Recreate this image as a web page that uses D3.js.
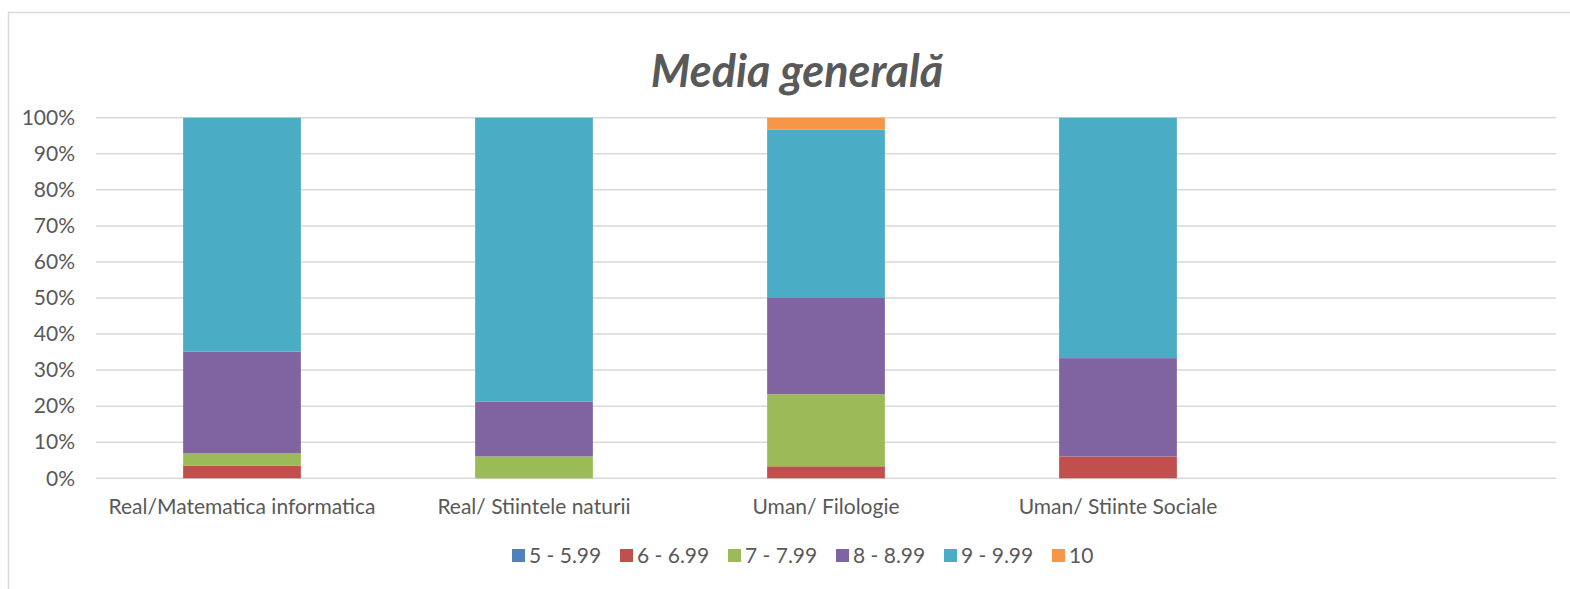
<!DOCTYPE html>
<html>
<head>
<meta charset="utf-8">
<script src="https://cdn.jsdelivr.net/npm/d3@7"></script>
<style>
  body { margin: 0; background: #fff; }
  text { font-family: Lato, "Noto Sans", sans-serif; fill: #595959; }
</style>
</head>
<body>
<div id="chart"></div>
<script>
// categories (last slot is empty in the original)
const categories = ["Real/Matematica informatica", "Real/ Stiintele naturii", "Uman/ Filologie", "Uman/ Stiinte Sociale", ""]
const seriesNames = ["5 - 5.99", "6 - 6.99", "7 - 7.99", "8 - 8.99", "9 - 9.99", "10"]
const seriesColors = ["#4f81bd", "#c0504d", "#9bbb59", "#8064a2", "#4bacc6", "#f79646"]

// share of each grade band, per category (percent)
const s5 = [0, 0, 0, 0, 0]
const s6 = [3.45, 0, 3.33, 6.06, 0]
const s7 = [3.45, 6.06, 20.0, 0, 0]
const s8 = [28.2, 15.15, 26.67, 27.27, 0]
const s9 = [64.9, 78.79, 46.67, 66.67, 0]
const s10 = [0, 0, 3.33, 0, 0]

const yTicks = [0, 10, 20, 30, 40, 50, 60, 70, 80, 90, 100]

const W = 1570, H = 589
const margin = { left: 96, right: 14 }
const labelSize = "21px"

const svg = d3.select("#chart").append("svg")
    .attr("width", W)
    .attr("height", H)

// chart frame
svg.append("rect")
    .attr("x", 8.5).attr("y", 12.5)
    .attr("width", W + 10).attr("height", H + 10)
    .attr("fill", "none")
    .attr("stroke", "#d9d9d9")
    .attr("stroke-width", 1.5)

svg.append("text")
    .attr("x", 797)
    .attr("y", 87)
    .attr("text-anchor", "middle")
    .style("font-size", "45px")
    .style("font-weight", "bold")
    .style("font-style", "italic")
    .text("Media generală")

const xScale = d3.scaleBand()
    .domain(d3.range(categories.length))
    .range([margin.left, W - margin.right])
    .padding(0)

const yScale = d3.scaleLinear()
    .domain([0, 100])
    .range([478.3, 117.7])

// gridlines
svg.append("g")
    .selectAll("line")
    .data(yTicks)
    .join("line")
    .attr("x1", margin.left)
    .attr("x2", W - margin.right)
    .attr("y1", d => yScale(d))
    .attr("y2", d => yScale(d))
    .attr("stroke", "#d9d9d9")
    .attr("stroke-width", 1.5)

// y axis labels
const leftAxis = d3.axisLeft(yScale)
    .tickValues(yTicks)
    .tickFormat(d => d + "%")
    .tickSize(0)
    .tickPadding(0)

const leftAxisGroup = svg.append("g")
    .attr("transform", `translate(75,0)`)
    .call(leftAxis)
leftAxisGroup.select(".domain").remove()
leftAxisGroup.selectAll("text")
    .style("font-size", labelSize)
    .attr("fill", "#595959")
    .attr("font-family", null)

// stacked bars
const rows = categories.map((c, i) => ({
    idx: i,
    "5 - 5.99": s5[i], "6 - 6.99": s6[i], "7 - 7.99": s7[i],
    "8 - 8.99": s8[i], "9 - 9.99": s9[i], "10": s10[i]
}))
const stacked = d3.stack().keys(seriesNames)(rows)

const barWidth = xScale.bandwidth() / 2.48

svg.append("g")
    .selectAll("g")
    .data(stacked)
    .join("g")
    .attr("fill", (d, i) => seriesColors[i])
    .selectAll("rect")
    .data(d => d.filter(p => p[1] - p[0] > 0))
    .join("rect")
    .attr("x", p => xScale(p.data.idx) + (xScale.bandwidth() - barWidth) / 2)
    .attr("width", barWidth)
    .attr("y", p => yScale(p[1]))
    .attr("height", p => yScale(p[0]) - yScale(p[1]))

// x axis labels
const bottomAxis = d3.axisBottom(xScale)
    .tickFormat(i => categories[i])
    .tickSize(0)
    .tickPadding(0)

const bottomAxisGroup = svg.append("g")
    .attr("transform", `translate(0,499)`)
    .call(bottomAxis)
bottomAxisGroup.select(".domain").remove()
bottomAxisGroup.selectAll("text")
    .style("font-size", labelSize)
    .attr("fill", "#595959")
    .attr("font-family", null)

// legend
const legendX = d3.scalePoint()
    .domain(seriesNames)
    .range([512, 1052])

const legend = svg.append("g")
    .selectAll("g")
    .data(seriesNames)
    .join("g")
    .attr("transform", d => `translate(${legendX(d)},549)`)

legend.append("rect")
    .attr("width", 13).attr("height", 13)
    .attr("fill", (d, i) => seriesColors[i])

legend.append("text")
    .attr("x", 17)
    .attr("y", 14)
    .style("font-size", labelSize)
    .text(d => d)
</script>
</body>
</html>
